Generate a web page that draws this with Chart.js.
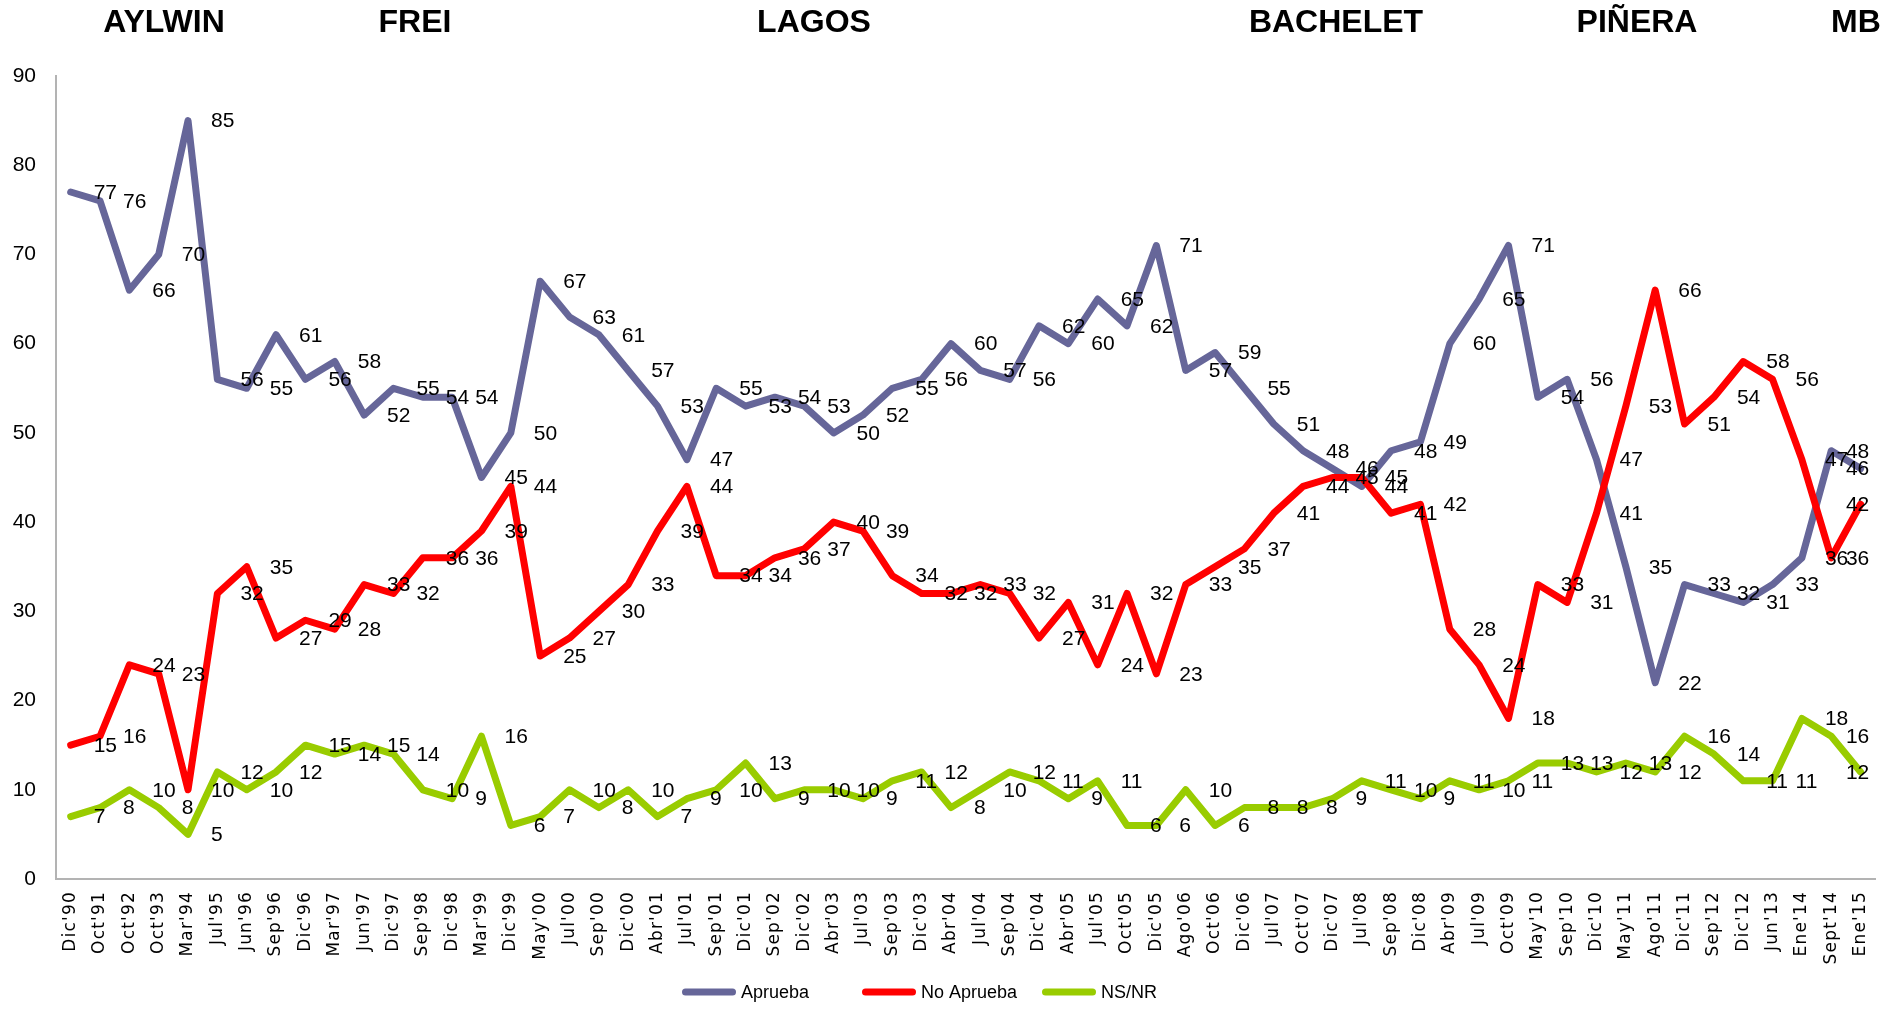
<!DOCTYPE html>
<html>
<head>
<meta charset="utf-8">
<script src="https://cdn.jsdelivr.net/npm/chart.js@4.4.1/dist/chart.umd.min.js"></script>
<style>
html,body{margin:0;padding:0;background:#fff;overflow:hidden}
#wrap{position:absolute;left:0;top:0;width:1893px;height:1010px}
</style>
</head>
<body>
<div id="wrap"><canvas id="c" width="1893" height="1010"></canvas></div>
<script>
const categories = ["Dic'90","Oct'91","Oct'92","Oct'93","Mar'94","Jul'95","Jun'96","Sep'96","Dic'96","Mar'97",
  "Jun'97","Dic'97","Sep'98","Dic'98","Mar'99","Dic'99","May'00","Jul'00","Sep'00","Dic'00",
  "Abr'01","Jul'01","Sep'01","Dic'01","Sep'02","Dic'02","Abr'03","Jul'03","Sep'03","Dic'03",
  "Abr'04","Jul'04","Sep'04","Dic'04","Abr'05","Jul'05","Oct'05","Dic'05","Ago'06","Oct'06",
  "Dic'06","Jul'07","Oct'07","Dic'07","Jul'08","Sep'08","Dic'08","Abr'09","Jul'09","Oct'09",
  "May'10","Sep'10","Dic'10","May'11","Ago'11","Dic'11","Sep'12","Dic'12","Jun'13","Ene'14",
  "Sept'14","Ene'15"];

const aprueba = [77,76,66,70,85,56,55,61,56,58,
  52,55,54,54,45,50,67,63,61,57,
  53,47,55,53,54,53,50,52,55,56,
  60,57,56,62,60,65,62,71,57,59,
  55,51,48,46,44,48,49,60,65,71,
  54,56,47,35,22,33,32,31,33,36,
  48,46];

const noAprueba = [15,16,24,23,10,32,35,27,29,28,
  33,32,36,36,39,44,25,27,30,33,
  39,44,34,34,36,37,40,39,34,32,
  32,33,32,27,31,24,32,23,33,35,
  37,41,44,45,45,41,42,28,24,18,
  33,31,41,53,66,51,54,58,56,47,
  36,42];

const nsnr = [7,8,10,8,5,12,10,12,15,14,
  15,14,10,9,16,6,7,10,8,10,
  7,9,10,13,9,10,10,9,11,12,
  8,10,12,11,9,11,6,6,10,6,
  8,8,8,9,11,10,9,11,10,11,
  13,13,12,13,12,16,14,11,11,18,
  16,12];

const seriesNames = ["Aprueba","No Aprueba","NS/NR"];
const presidents = ["AYLWIN","FREI","LAGOS","BACHELET","PIÑERA","MB"];
const yMin = 0, yMax = 90, yStep = 10;

// styling
const COLORS = ['#666699','#FF0000','#99CC00'];
const presidentX = [164,415,814,1336,1637,1856];
const LABEL_FONT = '"Liberation Sans", Arial, sans-serif';

class SpacedCategoryScale extends Chart.CategoryScale {
  drawLabels(chartArea) {
    const ctx = this.ctx;
    ctx.save();
    try { ctx.letterSpacing = '1.2px'; } catch (e) {}
    super.drawLabels(chartArea);
    ctx.restore();
  }
}
SpacedCategoryScale.id = 'spacedCategory';
SpacedCategoryScale.defaults = Chart.CategoryScale.defaults;
Chart.register(SpacedCategoryScale);

const titlesPlugin = {
  id: 'titles',
  afterDraw(chart) {
    const ctx = chart.ctx;
    ctx.save();
    ctx.font = 'bold 32px ' + LABEL_FONT;
    ctx.fillStyle = '#000';
    ctx.textAlign = 'center';
    ctx.textBaseline = 'alphabetic';
    presidents.forEach((p, i) => ctx.fillText(p, presidentX[i], 32));
    ctx.restore();
  }
};

const valueLabels = {
  id: 'valueLabels',
  afterDatasetsDraw(chart) {
    const ctx = chart.ctx;
    const right = chart.chartArea.right - 6;
    ctx.save();
    ctx.font = '21px ' + LABEL_FONT;
    ctx.fillStyle = '#000';
    ctx.textAlign = 'left';
    ctx.textBaseline = 'middle';
    chart.data.datasets.forEach((ds, di) => {
      const meta = chart.getDatasetMeta(di);
      meta.data.forEach((pt, i) => {
        const t = String(ds.data[i]);
        const w = ctx.measureText(t).width;
        let x = pt.x + 23;
        if (x + w > right) x = right - w;
        ctx.fillText(t, x, pt.y + 1);
      });
    });
    ctx.restore();
  }
};

const legendPlugin = {
  id: 'lineLegend',
  afterDraw(chart) {
    const ctx = chart.ctx;
    const lineLen = 54, gap = 5, slot = 180, cy = 992, x0 = 682;
    ctx.save();
    ctx.font = '18px ' + LABEL_FONT;
    chart.data.datasets.forEach((ds, i) => {
      const x = x0 + i * slot;
      ctx.strokeStyle = ds.borderColor;
      ctx.lineWidth = 7;
      ctx.lineCap = 'round';
      ctx.beginPath();
      ctx.moveTo(x + 3.5, cy);
      ctx.lineTo(x + lineLen - 3.5, cy);
      ctx.stroke();
      ctx.fillStyle = '#000';
      ctx.textAlign = 'left';
      ctx.textBaseline = 'middle';
      ctx.fillText(ds.label, x + lineLen + gap, cy + 1);
    });
    ctx.restore();
  }
};

const seriesData = [aprueba, noAprueba, nsnr];
const datasets = seriesData.map((d, i) => ({
  label: seriesNames[i],
  data: d,
  borderColor: COLORS[i],
  backgroundColor: COLORS[i],
  borderWidth: 7,
  pointRadius: 0,
  pointHoverRadius: 0,
  tension: 0,
  fill: false,
  borderJoinStyle: 'round',
  borderCapStyle: 'round',
  order: 3 - i
}));

new Chart(document.getElementById('c'), {
  type: 'line',
  data: { labels: categories, datasets },
  options: {
    responsive: false,
    animation: false,
    devicePixelRatio: 1,
    layout: { padding: { top: 76, bottom: 45, left: 0, right: 0 } },
    plugins: { legend: { display: false }, tooltip: { enabled: false } },
    scales: {
      x: {
        type: 'spacedCategory',
        offset: true,
        grid: { display: false, drawTicks: false },
        border: { display: true, color: '#b3b3b3', width: 2 },
        ticks: {
          autoSkip: false, maxRotation: 90, minRotation: 90, padding: 12,
          color: '#000', font: { family: 'DejaVu Sans', size: 17 }
        },
        afterFit(s) { s.height = 86; }
      },
      y: {
        min: yMin, max: yMax,
        grid: { display: false, drawTicks: false },
        border: { display: true, color: '#b3b3b3', width: 2 },
        ticks: {
          stepSize: yStep, padding: 20, color: '#000',
          font: { family: 'Liberation Sans', size: 21 }
        },
        afterFit(s) { s.width = 56; }
      }
    }
  },
  plugins: [titlesPlugin, valueLabels, legendPlugin]
});
</script>
</body>
</html>
